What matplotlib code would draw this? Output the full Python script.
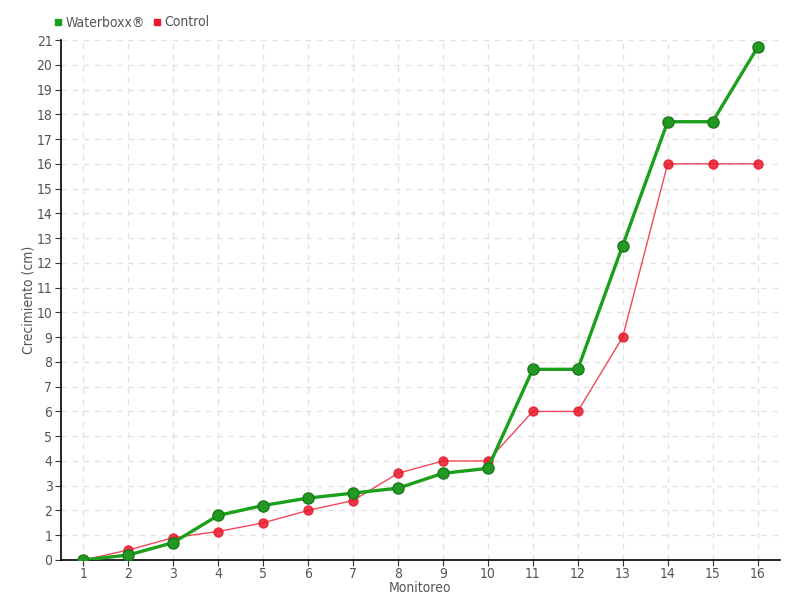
import matplotlib
matplotlib.use("Agg")
import matplotlib.pyplot as plt
from matplotlib.lines import Line2D

monitoreo = list(range(1, 17))
waterboxx = [0, 0.2, 0.7, 1.8, 2.2, 2.5, 2.7, 2.9, 3.5, 3.7, 7.7, 7.7, 12.7, 17.7, 17.7, 20.7]
control = [0, 0.4, 0.9, 1.15, 1.5, 2.0, 2.4, 3.5, 4.0, 4.0, 6.0, 6.0, 9.0, 16.0, 16.0, 16.0]

plt.rcParams['font.family'] = ['DejaVu Sans']
plt.rcParams['font.stretch'] = 'condensed'
txt = '#555555'

fig = plt.figure(figsize=(8, 6), dpi=100)
ax = fig.add_axes([0.076, 0.0667, 0.899, 0.8666])

ax.plot(monitoreo, control, color='#f0283c', lw=1.0, alpha=0.85, zorder=3,
        marker='o', ms=6.5, mfc='#e8192c', mec='#e8192c')
ax.plot(monitoreo, waterboxx, color='#1aa01a', lw=2.4, zorder=4,
        marker='o', ms=8, mfc='#229922', mec='#1a7a1a', mew=1)

ax.set_xlim(0.5, 16.5)
ax.set_ylim(0, 21)
ax.set_xticks(monitoreo)
ax.set_yticks(range(0, 22))
ax.grid(True, color='#e2e2e2', ls=(0, (4, 4)), lw=1.0)
ax.set_axisbelow(True)
for s in ['top', 'right']:
    ax.spines[s].set_visible(False)
for s in ['left', 'bottom']:
    ax.spines[s].set_color('black')
    ax.spines[s].set_linewidth(1.2)
ax.tick_params(axis='both', colors='#333333', labelcolor=txt, labelsize=10, length=4)
ax.tick_params(axis='x', pad=1)
ax.tick_params(axis='y', pad=2)
ax.set_xlabel('Monitoreo', color=txt, fontsize=10, labelpad=0)
ax.set_ylabel('Crecimiento (cm)', color=txt, fontsize=10, labelpad=1)

handles = [Line2D([], [], color='#1aa01a', marker='s', ls='none', ms=5),
           Line2D([], [], color='#e8192c', marker='s', ls='none', ms=5)]
fig.legend(handles, ['Waterboxx®', 'Control'], loc='upper left',
           bbox_to_anchor=(0.052, 0.995), ncol=2, frameon=False,
           handlelength=0.6, handletextpad=0.2, columnspacing=0.6,
           labelcolor=txt, fontsize=10)

fig.savefig('out.png', dpi=100)
